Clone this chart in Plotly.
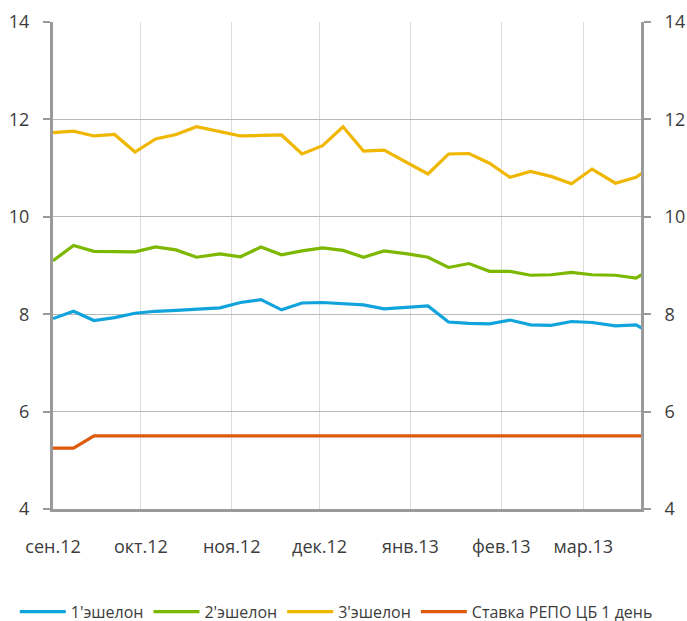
import plotly.graph_objects as go

dates = ["2012-09-01", "2012-09-08", "2012-09-15", "2012-09-22", "2012-09-29",
         "2012-10-06", "2012-10-13", "2012-10-20", "2012-10-28", "2012-11-04",
         "2012-11-11", "2012-11-18", "2012-11-25", "2012-12-02", "2012-12-09",
         "2012-12-16", "2012-12-23", "2012-12-31", "2013-01-07", "2013-01-14",
         "2013-01-21", "2013-01-28", "2013-02-04", "2013-02-11", "2013-02-18",
         "2013-02-25", "2013-03-04", "2013-03-12", "2013-03-19", "2013-03-26"]

tier1 = [7.91, 8.06, 7.87, 7.93, 8.02, 8.06, 8.08, 8.11, 8.13, 8.24,
         8.30, 8.09, 8.23, 8.24, 8.21, 8.19, 8.11, 8.14, 8.17, 7.84,
         7.81, 7.80, 7.88, 7.78, 7.77, 7.85, 7.83, 7.76, 7.78, 7.55]
tier2 = [9.10, 9.41, 9.29, 9.29, 9.28, 9.38, 9.32, 9.17, 9.24, 9.18,
         9.38, 9.22, 9.30, 9.36, 9.31, 9.17, 9.30, 9.24, 9.17, 8.96,
         9.04, 8.88, 8.88, 8.80, 8.81, 8.86, 8.81, 8.80, 8.74, 9.00]
tier3 = [11.73, 11.76, 11.66, 11.69, 11.33, 11.60, 11.69, 11.85, 11.75, 11.66,
         11.67, 11.68, 11.29, 11.46, 11.85, 11.35, 11.37, 11.11, 10.88, 11.29,
         11.30, 11.10, 10.81, 10.93, 10.83, 10.68, 10.98, 10.69, 10.81, 11.10]
repo = [5.25, 5.25, 5.50, 5.50, 5.50, 5.50, 5.50, 5.50, 5.50, 5.50,
        5.50, 5.50, 5.50, 5.50, 5.50, 5.50, 5.50, 5.50, 5.50, 5.50,
        5.50, 5.50, 5.50, 5.50, 5.50, 5.50, 5.50, 5.50, 5.50, 5.50]

series_names = ["1'эшелон", "2'эшелон", "3'эшелон", "Ставка РЕПО ЦБ 1 день"]
colors = ["#11a3dc", "#7cb800", "#efb700", "#dd5a0c"]

month_ticks = ["2012-09-01", "2012-10-01", "2012-11-01", "2012-12-01",
               "2013-01-01", "2013-02-01", "2013-03-01"]
month_labels = ["сен.12", "окт.12", "ноя.12", "дек.12", "янв.13", "фев.13", "мар.13"]
y_ticks = [4, 6, 8, 10, 12, 14]

FONT = "Open Sans, Roboto, sans-serif"
TXT = "#3c3c3c"
AXIS = "#9a9a9a"

fig = go.Figure()
for name, vals, col in zip(series_names, [tier1, tier2, tier3, repo], colors):
    fig.add_trace(go.Scatter(x=dates, y=vals, mode="lines", name=name,
                             line=dict(color=col, width=3.2)))
# mirror trace so the right axis is rendered
fig.add_trace(go.Scatter(x=dates, y=repo, yaxis="y2", mode="lines",
                         line=dict(color="rgba(0,0,0,0)", width=0),
                         showlegend=False, hoverinfo="skip"))

fig.update_layout(
    width=687, height=621,
    margin=dict(l=53, r=46, t=22, b=111.5, autoexpand=False),
    paper_bgcolor="white", plot_bgcolor="white",
    font=dict(family=FONT, color=TXT, size=18),
    xaxis=dict(
        type="date", automargin=False,
        range=["2012-09-01", "2013-03-20 17:00"],
        tickvals=month_ticks, ticktext=month_labels,
        showgrid=True, gridcolor="#dcdcdc", gridwidth=1,
        showline=True, linecolor=AXIS, linewidth=3,
        ticks="", ticklabelstandoff=19,
        tickfont=dict(size=18, color=TXT),
        zeroline=False,
    ),
    yaxis=dict(
        range=[4, 14], tickvals=y_ticks, automargin=False,
        showgrid=True, gridcolor="#b8b8b8", gridwidth=1.3,
        showline=True, linecolor=AXIS, linewidth=3,
        ticks="outside", ticklen=7, tickcolor=AXIS, tickwidth=2,
        ticklabelstandoff=10,
        tickfont=dict(size=18, color=TXT),
        zeroline=False,
    ),
    yaxis2=dict(
        range=[4, 14], tickvals=y_ticks, automargin=False,
        overlaying="y", side="right",
        showgrid=False,
        showline=True, linecolor=AXIS, linewidth=3,
        ticks="outside", ticklen=7, tickcolor=AXIS, tickwidth=2,
        ticklabelstandoff=10,
        tickfont=dict(size=18, color=TXT),
        zeroline=False,
    ),
    legend=dict(
        orientation="h", x=-0.065, xanchor="left",
        y=-0.176, yanchor="top",
        font=dict(size=16, color=TXT),
        itemwidth=46,
    ),
    showlegend=True,
)

# remove the default 8px page margin so the figure fills the window exactly
fig.write_html(
    "out.html",
    config={"displayModeBar": False},
    post_script="document.body.style.margin='0';document.body.style.overflow='hidden';",
)
